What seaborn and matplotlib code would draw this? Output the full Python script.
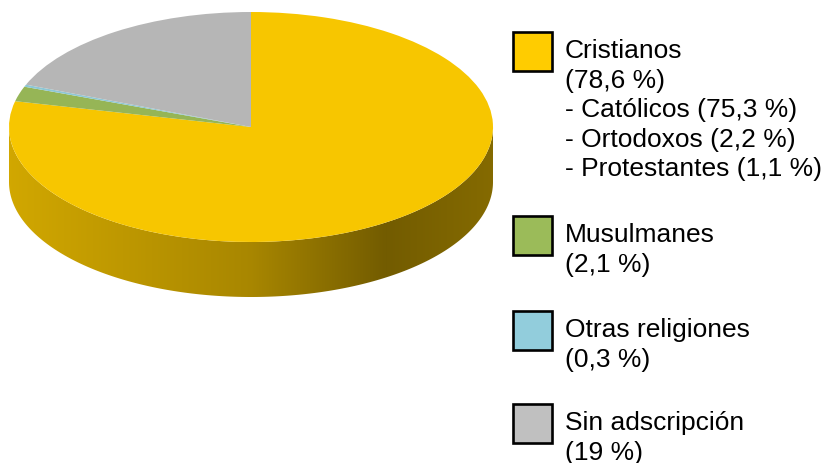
import numpy as np
import matplotlib
matplotlib.use("Agg")
import matplotlib.pyplot as plt
import matplotlib.colors as mcolors
from matplotlib.patches import Polygon, Rectangle
import seaborn as sns

# Datos
categorias = ["Cristianos", "Musulmanes", "Otras religiones", "Sin adscripción"]
porcentajes = [78.6, 2.1, 0.3, 19.0]
colores = ["#FFCC00", "#9BBB59", "#92CDDC", "#C0C0C0"]
sub_cristianos = ["Católicos", "Ortodoxos", "Protestantes"]
sub_porcentajes = [75.3, 2.2, 1.1]

W, H = 825, 464
sns.set_theme(style="white")
plt.rcParams["font.family"] = ["Liberation Sans", "DejaVu Sans"]

fig = plt.figure(figsize=(W / 100, H / 100), dpi=100)

# geometria del pastel en pixeles (centro, radios, grosor)
cx, cy, rx, ry, depth = 251, 128, 242, 115, 55
pad = 4
x0, x1 = cx - rx - pad, cx + rx + pad
ytop, ybot = cy - ry - pad, cy + ry + depth + pad
ax = fig.add_axes([x0 / W, 1 - ybot / H, (x1 - x0) / W, (ybot - ytop) / H])

def sombra(color):
    r, g, b = mcolors.to_rgb(color)
    pasos = [(0.0, 0.82), (0.5, 0.66), (0.78, 0.45), (1.0, 0.52)]
    return mcolors.LinearSegmentedColormap.from_list(
        "lado", [(p, (r * f, g * f, b * f)) for p, f in pasos])

top_colors = [tuple(c * 0.97 for c in mcolors.to_rgb(c_)) for c_ in colores]
top_colors[3] = "#B6B6B6"
wedges, _ = ax.pie(porcentajes, colors=top_colors, startangle=90, counterclock=False,
                   radius=1, wedgeprops=dict(linewidth=0, zorder=3))
ax.set_aspect("auto")
ax.set_xlim(-(rx + pad) / rx, (rx + pad) / rx)
ax.set_ylim(-(ry + depth + pad) / ry, (ry + pad) / ry)
ax.axis("off")

# lado 3D: parte frontal de cada porcion
d = depth / ry
gx = np.linspace(-1, 1, 256).reshape(1, -1)
for w, col in zip(wedges, colores):
    t1, t2 = w.theta1, w.theta2
    for lo, hi in [(-180, 0), (180, 360)]:
        a, b = max(t1, lo), min(t2, hi)
        if b <= a:
            continue
        t = np.radians(np.linspace(a, b, 200))
        xs, ys = np.cos(t), np.sin(t)
        pts = np.vstack([np.column_stack([xs, ys]),
                         np.column_stack([xs[::-1], ys[::-1] - d])])
        poly = Polygon(pts, closed=True, facecolor="none", edgecolor="none")
        ax.add_patch(poly)
        im = ax.imshow(gx, cmap=sombra(col), extent=[-1, 1, -1 - d, 0.1],
                       aspect="auto", zorder=2, interpolation="bilinear")
        im.set_clip_path(poly)

# leyenda
fs = 19
tx = 565
paso = 29.6
cajas_top = [32.5, 217, 312, 405]
lineas = []
for cat, val in zip(categorias, porcentajes):
    v = f"{val:g}".replace(".", ",")
    lineas.append([cat, f"({v} %)"])
lineas[0] += [f"- {s} ({f'{v:g}'.replace('.', ',')} %)"
              for s, v in zip(sub_cristianos, sub_porcentajes)]

for top, col, ls in zip(cajas_top, colores, lineas):
    fig.patches.append(Rectangle((513 / W, 1 - (top + 39) / H), 39 / W, 39 / H,
                                 transform=fig.transFigure, facecolor=col,
                                 edgecolor="black", linewidth=1.9))
    for i, texto in enumerate(ls):
        fig.text(tx / W, 1 - (top + 25.5 + i * paso) / H, texto, fontsize=fs,
                 color="black", va="baseline", ha="left")

fig.savefig("out.png", dpi=100, facecolor="white")
